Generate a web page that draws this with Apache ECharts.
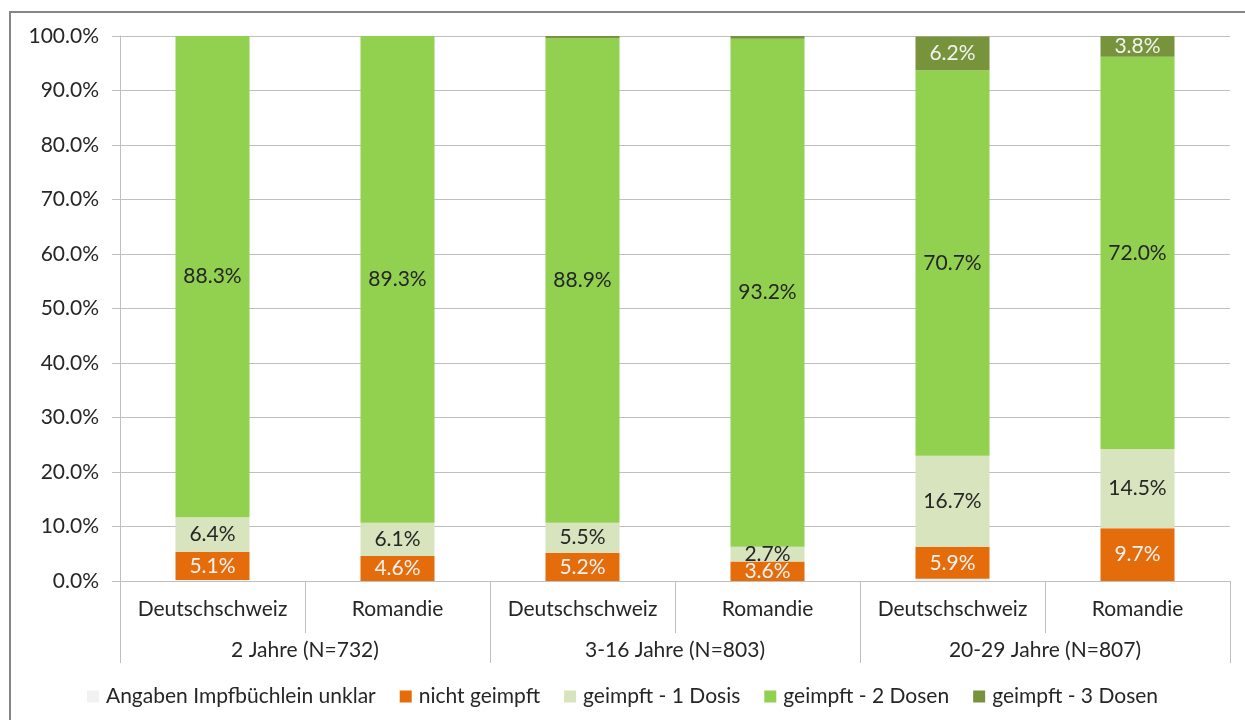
<!DOCTYPE html>
<html>
<head>
<meta charset="utf-8">
<script src="https://cdn.jsdelivr.net/npm/echarts@6/dist/echarts.min.js"></script>
<style>
  html, body { margin: 0; padding: 0; background: #fff; }
  #chart { width: 1245px; height: 720px; }
</style>
</head>
<body>
<div id="chart"></div>
<script>
const regions = ['Deutschschweiz', 'Romandie', 'Deutschschweiz', 'Romandie', 'Deutschschweiz', 'Romandie']
const groups = ['2 Jahre (N=732)', '3-16 Jahre (N=803)', '20-29 Jahre (N=807)']
const yTicks = [0, 10, 20, 30, 40, 50, 60, 70, 80, 90, 100]

const unklar = [0.2, 0, 0, 0, 0.4, 0]
const nichtGeimpft = [5.1, 4.6, 5.2, 3.6, 5.9, 9.7]
const dosis1 = [6.4, 6.1, 5.5, 2.7, 16.7, 14.5]
const dosen2 = [88.3, 89.3, 88.9, 93.2, 70.7, 72.0]
const dosen3 = [0, 0, 0.4, 0.5, 6.2, 3.8]

const FONT = 'Lato'
const FS = 21
const GRID_COLOR = '#bfbfbf'
const TEXT = '#262626'

const mkSeries = (name, data, color, labelColor) => ({
  name,
  type: 'bar',
  stack: 'total',
  data,
  barWidth: '40%',
  itemStyle: { color },
  label: {
    show: true,
    position: 'inside',
    color: labelColor,
    fontFamily: FONT,
    fontSize: FS,
    formatter: (p) => (p.value >= 1 ? p.value.toFixed(1) + '%' : '')
  }
})

const chart = echarts.init(document.getElementById('chart'))
chart.setOption({
  animation: false,
  textStyle: { fontFamily: FONT },
  graphic: [{
    type: 'rect',
    shape: { x: 10, y: 12, width: 1400, height: 900 },
    style: { fill: 'none', stroke: '#868686', lineWidth: 2 },
    silent: true
  }],
  grid: { left: 120, right: 15, top: 36, bottom: 139 },
  legend: {
    bottom: 8,
    left: 'center',
    itemWidth: 12,
    itemHeight: 12,
    itemGap: 24,
    icon: 'rect',
    textStyle: { fontFamily: FONT, fontSize: FS, color: TEXT, padding: [0, 0, 0, 2] },
    data: ['Angaben Impfbüchlein unklar', 'nicht geimpft', 'geimpft - 1 Dosis', 'geimpft - 2 Dosen', 'geimpft - 3 Dosen']
  },
  xAxis: [
    {
      type: 'category',
      data: regions,
      position: 'bottom',
      axisLine: { show: true, lineStyle: { color: GRID_COLOR, width: 1 } },
      axisTick: { show: true, length: 52, interval: 0, lineStyle: { color: GRID_COLOR } },
      axisLabel: { interval: 0, margin: 18, fontFamily: FONT, fontSize: FS, color: TEXT },
      splitLine: { show: false }
    },
    {
      type: 'category',
      data: groups,
      position: 'bottom',
      offset: 52,
      axisLine: { show: false },
      axisTick: { show: true, length: 30, interval: 0, lineStyle: { color: GRID_COLOR } },
      axisLabel: { interval: 0, margin: 7, fontFamily: FONT, fontSize: FS, color: TEXT },
      splitLine: { show: false }
    }
  ],
  yAxis: {
    type: 'value',
    min: yTicks[0],
    max: yTicks[yTicks.length - 1],
    interval: 10,
    axisLine: { show: true, lineStyle: { color: GRID_COLOR } },
    axisTick: { show: true, length: 8, lineStyle: { color: GRID_COLOR } },
    axisLabel: {
      margin: 21,
      fontFamily: FONT,
      fontSize: FS,
      color: TEXT,
      formatter: (v) => v.toFixed(1) + '%'
    },
    splitLine: { show: true, lineStyle: { color: GRID_COLOR, width: 1 } }
  },
  series: [
    mkSeries('Angaben Impfbüchlein unklar', unklar, '#f2f2f2', TEXT),
    mkSeries('nicht geimpft', nichtGeimpft, '#e46c0a', '#f2f2f2'),
    mkSeries('geimpft - 1 Dosis', dosis1, '#d7e4bd', TEXT),
    mkSeries('geimpft - 2 Dosen', dosen2, '#92d050', TEXT),
    mkSeries('geimpft - 3 Dosen', dosen3, '#77933c', '#f2f2f2')
  ]
})
</script>
</body>
</html>
